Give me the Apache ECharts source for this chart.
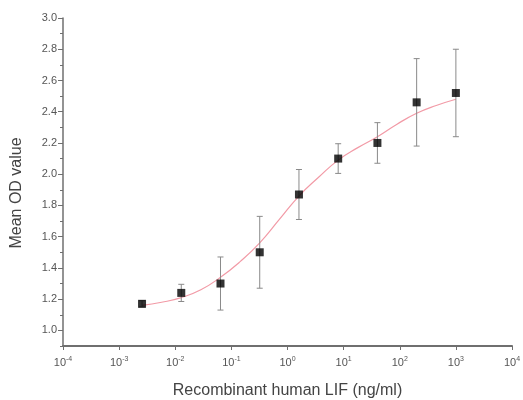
<!DOCTYPE html>
<html>
<head>
<meta charset="utf-8">
<script src="https://cdn.jsdelivr.net/npm/echarts@6/dist/echarts.min.js"></script>
<style>
  html, body { margin: 0; padding: 0; background: #fff; }
  #chart { width: 523px; height: 400px; }
</style>
</head>
<body>
<div id="chart"></div>
<script>
// LIF 浓度 (ng/ml), 5 倍稀释
var doseX = [0.00256, 0.0128, 0.064, 0.32, 1.6, 8, 40, 200, 1000];
var meanOD = [1.17, 1.24, 1.30, 1.50, 1.87, 2.10, 2.20, 2.46, 2.52];
var errOD = [0.02, 0.055, 0.17, 0.23, 0.16, 0.095, 0.13, 0.28, 0.28];

// 拟合曲线
var fitX = [0.00256, 0.00572, 0.0128, 0.0286, 0.064, 0.143, 0.32, 0.716, 1.6, 3.58, 8, 17.9, 40, 89.4, 200, 447, 1000];
var fitY = [1.16, 1.18, 1.21, 1.26, 1.34, 1.44, 1.56, 1.71, 1.86, 1.98, 2.09, 2.17, 2.24, 2.32, 2.39, 2.44, 2.48];

// 刻度
var xTickExp = ['-4', '-3', '-2', '-1', '0', '1', '2', '3', '4'];
var yTickValues = [1.0, 1.2, 1.4, 1.6, 1.8, 2.0, 2.2, 2.4, 2.6, 2.8, 3.0];

var chart = echarts.init(document.getElementById('chart'));

var axisGray = '#6f6f6f';
var labelGray = '#555';

var option = {
  animation: false,
  textStyle: { fontFamily: 'Liberation Sans, Arial, sans-serif' },
  grid: { left: 63, right: 11, top: 18, bottom: 54, outerBoundsMode: 'none' },
  xAxis: {
    type: 'log',
    logBase: 10,
    min: 1e-4,
    max: 1e4,
    interval: 1,
    name: 'Recombinant human LIF (ng/ml)',
    nameLocation: 'middle',
    nameGap: 37,
    nameTextStyle: { fontSize: 16, color: '#444' },
    axisLine: { lineStyle: { color: axisGray, width: 2 } },
    axisTick: { length: 4, lineStyle: { color: axisGray } },
    splitLine: { show: false },
    axisLabel: {
      margin: 10,
      formatter: function (v) {
        var e = Math.round(Math.log10(v));
        return '{b|10}{s|' + xTickExp[e + 4] + '}';
      },
      rich: {
        b: { fontSize: 11, color: labelGray },
        s: { fontSize: 7, color: labelGray, padding: [0, 0, 6, 0] }
      }
    }
  },
  yAxis: [
    {
      type: 'value',
      min: 0.9,
      max: 3.0,
      name: 'Mean OD value',
      nameLocation: 'middle',
      nameGap: 38,
      nameTextStyle: { fontSize: 16, color: '#444', padding: [0, 22, 0, 0] },
      axisLine: { show: true, lineStyle: { color: axisGray, width: 1.5 } },
      axisTick: { show: true, length: 5, customValues: yTickValues, lineStyle: { color: axisGray } },
      splitLine: { show: false },
      axisLabel: {
        customValues: yTickValues,
        fontSize: 11,
        color: labelGray,
        margin: 6,
        formatter: function (v) { return v.toFixed(1); }
      }
    },
    {
      type: 'value',
      position: 'left',
      min: 0.9,
      max: 3.0,
      interval: 0.1,
      axisLine: { show: false },
      axisTick: { show: true, length: 3, lineStyle: { color: axisGray } },
      axisLabel: { show: false },
      splitLine: { show: false }
    }
  ],
  series: [
    {
      type: 'line',
      data: fitX.map(function (x, i) { return [x, fitY[i]]; }),
      smooth: true,
      showSymbol: false,
      lineStyle: { color: '#f29aa6', width: 1.2 },
      z: 1
    },
    {
      type: 'custom',
      data: doseX.map(function (x, i) { return [x, meanOD[i] - errOD[i], meanOD[i] + errOD[i]]; }),
      renderItem: function (params, api) {
        var lo = api.coord([api.value(0), api.value(1)]);
        var hi = api.coord([api.value(0), api.value(2)]);
        var w = 3;
        var st = { stroke: '#8a8a8a', lineWidth: 1 };
        return {
          type: 'group',
          children: [
            { type: 'line', shape: { x1: hi[0], y1: hi[1], x2: lo[0], y2: lo[1] }, style: st },
            { type: 'line', shape: { x1: hi[0] - w, y1: hi[1], x2: hi[0] + w, y2: hi[1] }, style: st },
            { type: 'line', shape: { x1: lo[0] - w, y1: lo[1], x2: lo[0] + w, y2: lo[1] }, style: st }
          ]
        };
      },
      z: 2
    },
    {
      type: 'scatter',
      data: doseX.map(function (x, i) { return [x, meanOD[i]]; }),
      symbol: 'rect',
      symbolSize: 8,
      itemStyle: { color: '#000' },
      z: 3
    }
  ]
};

chart.setOption(option);
</script>
</body>
</html>
